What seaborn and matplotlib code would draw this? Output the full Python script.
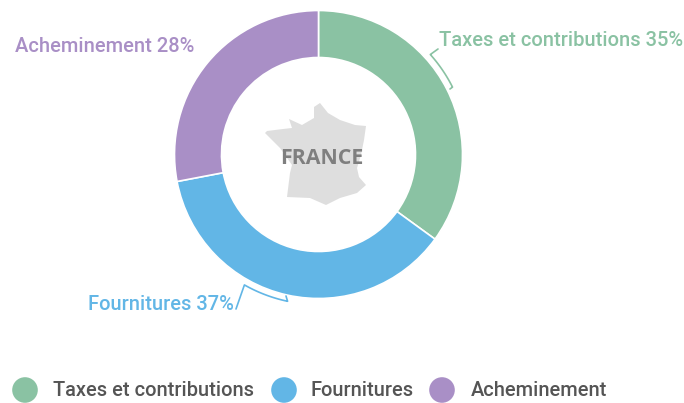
import numpy as np
import matplotlib
matplotlib.use('Agg')
import matplotlib.pyplot as plt
from matplotlib.patches import Polygon
import seaborn as sns

categories = ['Taxes et contributions', 'Fournitures', 'Acheminement']
shares = [35, 37, 28]
colors = ['#8AC2A3', '#62B6E6', '#A98FC6']

# outline of the country (pixels)
france_x = [320, 328, 340, 355, 366, 364, 361, 357, 359, 366, 357, 340, 326, 310, 287, 290, 292, 280, 265, 267, 283, 292, 289, 302, 314, 314]
france_y = [103, 113, 120, 125, 126, 140, 155, 168, 177, 185, 193, 198, 205, 198, 197, 173, 165, 148, 133, 131, 129, 128, 119, 125, 118, 107]

sns.set_theme(style='white')
plt.rcParams['font.family'] = ['Roboto', 'DejaVu Sans']

fig = plt.figure(figsize=(6.84, 4.03), dpi=100)
ax = fig.add_axes([0, 0, 1, 1])

cx, cy = 318.5, 154.5
radius = 144

# y axis runs downward here, so the angles look mirrored
ax.pie(shares, colors=colors, startangle=-90, counterclock=True,
       center=(cx, cy), radius=radius,
       wedgeprops={'width': 47, 'edgecolor': 'white', 'linewidth': 1.2})

ax.set_xlim(0, 684)
ax.set_ylim(403, 0)
ax.set_aspect('equal')
ax.axis('off')


def arc(a0, a1, r=150):
    t = np.radians(np.linspace(a0, a1, 40))
    return cx + r * np.sin(t), cy - r * np.cos(t)


ax.add_patch(Polygon(np.c_[france_x, france_y], closed=True, facecolor='#DEDEDE', edgecolor='none'))
ax.text(322, 159, 'FRANCE', ha='center', va='center', fontsize=15.4, fontweight='bold',
        color='#7F7F7F', family=['Open Sans', 'DejaVu Sans'])

# brackets tying the labels to the ring
x, y = arc(48.2, 63.3)
ax.plot(np.r_[438, x, 450], np.r_[49, y, 89], color=colors[0], lw=1.2)
x, y = arc(209.6, 191.9)
ax.plot(np.r_[236, x, 286], np.r_[309, y, 296], color=colors[1], lw=1.2)

ax.text(439, 41, f'{categories[0]} {shares[0]}%', color=colors[0], fontsize=14.5, fontweight='medium', va='center')
ax.text(88, 304, f'{categories[1]} {shares[1]}%', color=colors[1], fontsize=14.5, fontweight='medium', va='center')
ax.text(15, 46, f'{categories[2]} {shares[2]}%', color=colors[2], fontsize=14.5, fontweight='medium', va='center')

# legend row
dot_x = [25, 284, 442]
text_x = [53, 311, 471]
sns.scatterplot(x=dot_x, y=[390] * 3, hue=categories, palette=colors, s=340, legend=False,
                linewidth=0, ax=ax, clip_on=False)
for tx, name in zip(text_x, categories):
    ax.text(tx, 390, name, color='#555555', fontsize=14.4, fontweight='medium', va='center')

ax.set_xlim(0, 684)
ax.set_ylim(403, 0)
fig.savefig('out.png', dpi=100)
